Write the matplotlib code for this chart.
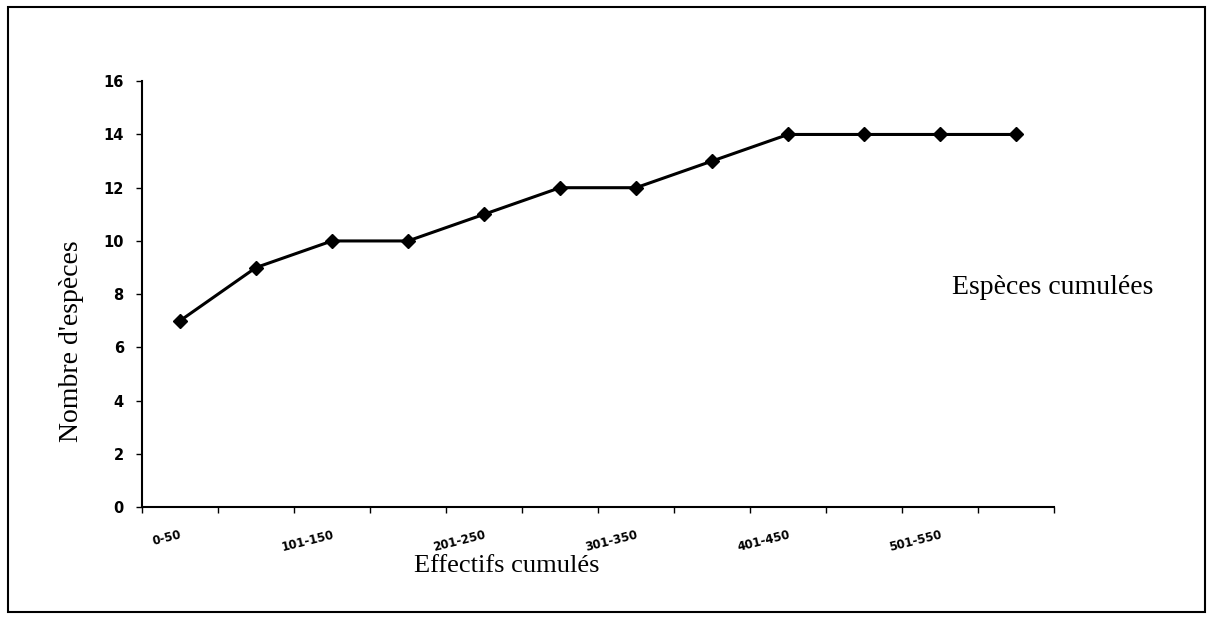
import matplotlib.pyplot as plt
from matplotlib.patches import Rectangle

# cumulative species per cumulative sample class
classes = ['0-50', '51-100', '101-150', '151-200', '201-250', '251-300',
           '301-350', '351-400', '401-450', '451-500', '501-550', '551-600']
especes = [7, 9, 10, 10, 11, 12, 12, 13, 14, 14, 14, 14]
y_ticks = [0, 2, 4, 6, 8, 10, 12, 14, 16]

fig = plt.figure(figsize=(12.13, 6.2), dpi=100)
ax = fig.add_axes([0.117, 0.182, 0.752, 0.687])

x = list(range(len(classes)))
ax.plot(x, especes, color='black', lw=2.2, marker='D', ms=7.5, mfc='black')

ax.set_xlim(-0.5, len(classes) - 0.5)
ax.set_ylim(0, 16)

# category boundaries get the tick marks, labels on every other class
ax.set_xticks([i - 0.5 for i in range(len(classes) + 1)], minor=True)
ax.set_xticks(x[::2])
ax.set_xticklabels(classes[::2], rotation=14, ha='right', va='top',
                   rotation_mode='anchor', fontsize=8.5, fontweight='bold')
ax.tick_params(axis='x', which='major', length=0, pad=15)
ax.tick_params(axis='x', which='minor', length=4, width=1, direction='out')

ax.set_yticks(y_ticks)
ax.set_yticklabels([str(v) for v in y_ticks], fontsize=10.5, fontweight='bold')
ax.tick_params(axis='y', length=4, width=1, direction='out', pad=9)

for s in ['top', 'right']:
    ax.spines[s].set_visible(False)
for s in ['left', 'bottom']:
    ax.spines[s].set_linewidth(1.5)

fig.text(0.059, 0.45, "Nombre d'espèces", family='Liberation Serif', fontsize=20,
         rotation=90, ha='center', va='center')
fig.text(0.418, 0.087, 'Effectifs cumulés', family='Liberation Serif', fontsize=19,
         ha='center', va='center')
fig.text(0.868, 0.537, 'Espèces cumulées', family='Liberation Serif', fontsize=20,
         ha='center', va='center')

fig.patches.append(Rectangle((0.007, 0.013), 0.986, 0.976, transform=fig.transFigure,
                             fill=False, edgecolor='black', lw=1.5))

fig.savefig('out.png', dpi=100)
